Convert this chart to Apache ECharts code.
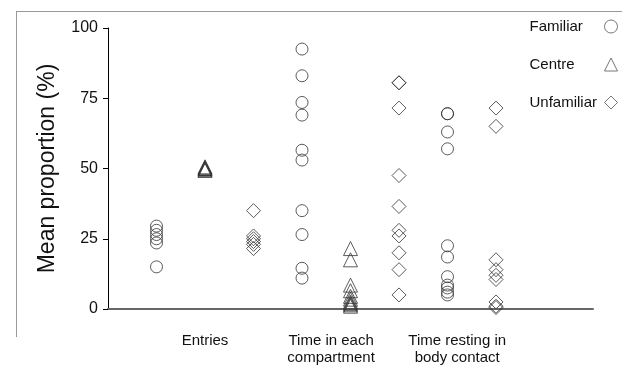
<!DOCTYPE html>
<html><head><meta charset="utf-8">
<script src="https://cdn.jsdelivr.net/npm/echarts@6/dist/echarts.min.js"></script>
<style>html,body{margin:0;padding:0;background:#fff}#c{width:622px;height:366px}</style>
</head><body><div id="c"></div>
<script>
// Category labels and their positions on the x scale
const groupLabels = ['Entries', 'Time in each\ncompartment', 'Time resting in\nbody contact'];
const groupLabelPos = [2, 4.6, 7.2];
// Column slots on the x scale for each series
const familiarSlots = [1, 4, 7];
const centreSlots = [2, 5];
const unfamiliarSlots = [3, 6, 8];
// Values (%)
const familiarEntries = [15, 23.5, 25, 26.5, 28, 29.5];
const familiarTime = [92.5, 83, 73.5, 69, 56.5, 53, 35, 26.5, 14.5, 11];
const familiarResting = [69.5, 69.5, 63, 57, 22.5, 18.5, 11.5, 8.5, 7.5, 6, 5];
const centreEntries = [49.3, 49.6, 50, 50, 50.3, 50.6];
const centreTime = [21.5, 17.5, 8.5, 6.5, 4.5, 3.5, 2.5, 2, 1.5, 1];
const unfamiliarEntries = [35, 26, 25, 24, 23, 21.5];
const unfamiliarTime = [80.5, 80.5, 71.5, 47.5, 36.5, 28, 26, 20, 14, 5];
const unfamiliarResting = [71.5, 65, 17.5, 14, 12, 10.5, 2.5, 1, 0.5];
const yTicks = [0, 25, 50, 75, 100];

function pts(slots, cols) {
  const out = [];
  cols.forEach((arr, i) => arr.forEach(v => out.push([slots[i], v])));
  return out;
}
const stroke = '#333';
const mk = (name, symbol, data, size) => ({
  name, type: 'scatter', symbol, symbolSize: size, data,
  itemStyle: { color: 'rgba(255,255,255,0)', borderColor: stroke, borderWidth: 1 },
  emphasis: { disabled: true }, animation: false
});

const chart = echarts.init(document.getElementById('c'), null, { renderer: 'canvas' });
const option = {
  animation: false,
  grid: { left: 108, right: 29, top: 28, bottom: 57 },
  legend: {
    orient: 'vertical', right: 4, top: 19, padding: 0, align: 'right', itemGap: 23,
    itemWidth: 13, itemHeight: 13,
    itemStyle: { color: 'rgba(255,255,255,0)', borderColor: '#555', borderWidth: 1 },
    formatter: '{a|{name}}',
    textStyle: { rich: { a: { width: 70, align: 'left', fontSize: 15, fontFamily: 'Liberation Sans, Arial', color: '#111' } } },
    selectedMode: false,
    data: [
      { name: 'Familiar', icon: 'circle' },
      { name: 'Centre', icon: 'triangle' },
      { name: 'Unfamiliar', icon: 'diamond' }
    ]
  },
  xAxis: {
    type: 'value', min: 0, max: 10, interval: 1,
    axisLine: { show: true, onZero: false, lineStyle: { color: '#666', width: 2 } },
    axisTick: { show: false }, axisLabel: { show: false }, splitLine: { show: false }
  },
  yAxis: {
    type: 'value', min: yTicks[0], max: yTicks[yTicks.length - 1], interval: 25,
    name: 'Mean proportion (%)', nameLocation: 'middle', nameGap: 49,
    nameTextStyle: { fontSize: 23, fontFamily: 'Liberation Sans, Arial', color: '#111' },
    axisLine: { show: true, lineStyle: { color: '#000', width: 1 } },
    axisTick: { show: true, length: 5, lineStyle: { color: '#000' } },
    axisLabel: { fontSize: 16, fontFamily: 'Liberation Sans, Arial', color: '#111', margin: 10 },
    splitLine: { show: false }
  },
  series: [
    mk('Familiar', 'circle', pts(familiarSlots, [familiarEntries, familiarTime, familiarResting]), 12),
    mk('Centre', 'triangle', pts(centreSlots, [centreEntries, centreTime]), 14),
    mk('Unfamiliar', 'diamond', pts(unfamiliarSlots, [unfamiliarEntries, unfamiliarTime, unfamiliarResting]), 14)
  ]
};
chart.setOption(option);

const gfx = [
  { type: 'line', shape: { x1: 16, y1: 11.5, x2: 622, y2: 11.5 }, style: { stroke: '#999', lineWidth: 1 }, silent: true },
  { type: 'line', shape: { x1: 16.5, y1: 11, x2: 16.5, y2: 337 }, style: { stroke: '#999', lineWidth: 1 }, silent: true }
];
groupLabels.forEach((t, i) => {
  const x = chart.convertToPixel({ xAxisIndex: 0 }, groupLabelPos[i]);
  gfx.push({
    type: 'text', x: x, y: 332, silent: true,
    style: { text: t, align: 'center', verticalAlign: 'top', fontSize: 15, lineHeight: 17,
      fontFamily: 'Liberation Sans, Arial', fill: '#111' }
  });
});
chart.setOption({ graphic: gfx });
</script>
</body></html>
